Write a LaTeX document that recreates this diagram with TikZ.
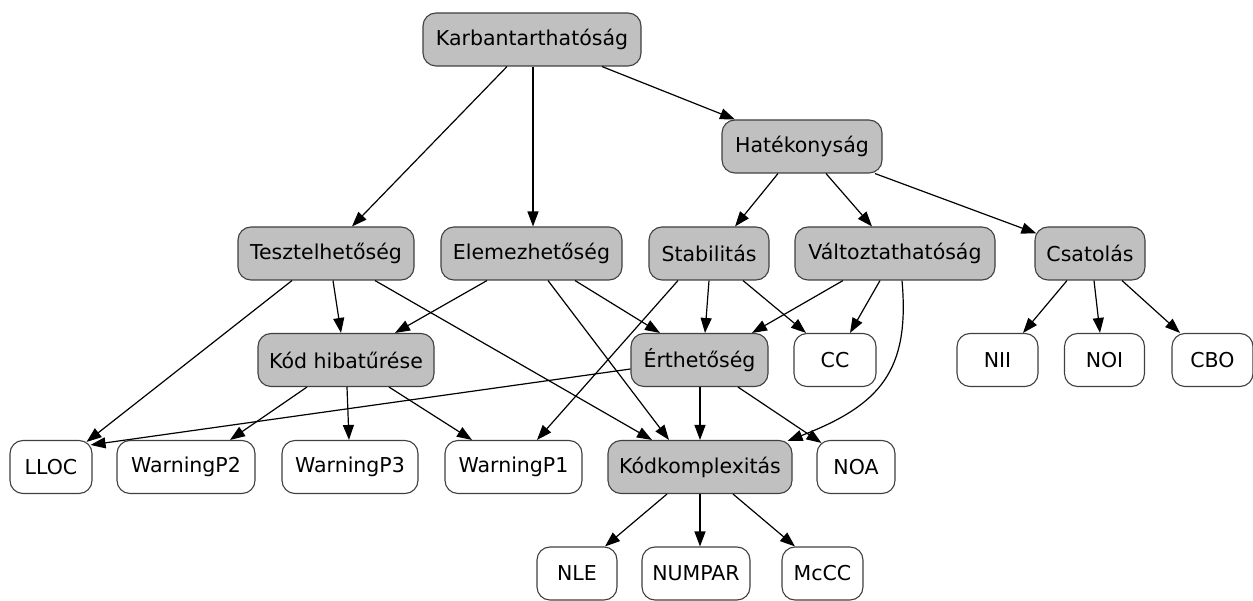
\documentclass[tikz,border=0pt]{standalone}
\usepackage{fontspec}
\setmainfont{DejaVu Sans}
\usepackage{tikz}
\usetikzlibrary{arrows.meta}

\definecolor{silver}{RGB}{192,192,192}

\begin{document}
\begin{tikzpicture}[x=1pt,y=-1pt,
    box/.style={draw=black!75,line width=1.1pt,rounded corners=13pt,
        minimum height=53pt,inner xsep=9pt,font=\fontsize{20.5}{24}\selectfont},
    factor/.style={box,fill=silver},
    metric/.style={box,fill=white},
    edge/.style={-{Triangle[length=15pt,width=11pt]},line width=1.2pt}]

\useasboundingbox (0,0) rectangle (1253,601);

% quality factors
\node [factor,minimum width=218pt] (karb) at (532,39.5) {Karbantarthatóság};
\node [factor,minimum width=160pt] (hat) at (802,146.5) {Hatékonyság};
\node [factor,minimum width=176pt] (teszt) at (326,253.5) {Tesztelhetőség};
\node [factor,minimum width=181pt] (elem) at (531.5,253.5) {Elemezhetőség};
\node [factor,minimum width=120pt] (stab) at (709,253.5) {Stabilitás};
\node [factor,minimum width=200pt] (valt) at (895,253.5) {Változtathatóság};
\node [factor,minimum width=110pt] (csat) at (1090,253.5) {Csatolás};
\node [factor,minimum width=176pt] (kodh) at (346,360) {Kód hibatűrése};
\node [factor,minimum width=137pt] (erth) at (699.5,360) {Érthetőség};
\node [factor,minimum width=184pt] (kodk) at (700,467) {Kódkomplexitás};

% metrics
\node [metric,minimum width=82pt] (cc) at (835,360) {CC};
\node [metric,minimum width=81pt] (nii) at (997.5,360) {NII};
\node [metric,minimum width=80pt] (noi) at (1104.5,360) {NOI};
\node [metric,minimum width=81pt] (cbo) at (1212.5,360) {CBO};
\node [metric,minimum width=82pt] (lloc) at (51,467) {LLOC};
\node [metric,minimum width=138pt] (wp2) at (186,467) {WarningP2};
\node [metric,minimum width=136pt] (wp3) at (350,467) {WarningP3};
\node [metric,minimum width=137pt] (wp1) at (513.5,467) {WarningP1};
\node [metric,minimum width=78pt] (noa) at (856,467) {NOA};
\node [metric,minimum width=80pt] (nle) at (577,573.5) {NLE};
\node [metric,minimum width=108pt] (numpar) at (696,573.5) {NUMPAR};
\node [metric,minimum width=81pt] (mccc) at (822.5,573.5) {McCC};

% downward edges: source/shift/target/shift
\foreach \s/\sx/\t/\tx in {karb/-25/teszt/26, karb/1/elem/1.5, karb/70/hat/-67,
    hat/-24/stab/26, hat/24/valt/-23,
    teszt/7/kodh/-5, teszt/49/kodk/-48,
    elem/-44.5/kodh/49, elem/16.5/kodk/-31, elem/43.5/erth/-39.5,
    stab/-31/wp1/23.5, stab/0/erth/5.5, stab/34/cc/-29,
    valt/-52/erth/52.5, valt/-15/cc/15,
    csat/-23/nii/25.5, csat/4/noi/-4.5, csat/32/cbo/-32.5,
    kodh/-39/wp2/44, kodh/1/wp3/-1, kodh/43/wp1/-41.5,
    erth/0.5/kodk/0,
    kodk/-33/nle/28, kodk/0/numpar/4, kodk/33/mccc/-27.5}
    \draw [edge] ([xshift=\sx]\s.south) -- ([xshift=\tx]\t.north);

% edges ending at corners
\draw [edge] ([xshift=73]hat.south) -- ([xshift=2,yshift=-7]csat.north west);
\draw [edge] ([xshift=-34]teszt.south) -- ([xshift=-6,yshift=-2]lloc.north east);
\draw [edge] ([yshift=-9]erth.west) -- ([xshift=-2,yshift=-5]lloc.north east);
\draw [edge] ([xshift=38.5]erth.south) -- ([xshift=5,yshift=-3]noa.north west);
\draw [edge] ([xshift=7]valt.south) .. controls +(8,90) and +(93,-36) .. ([xshift=-5,yshift=-1]kodk.north east);

\end{tikzpicture}
\end{document}
